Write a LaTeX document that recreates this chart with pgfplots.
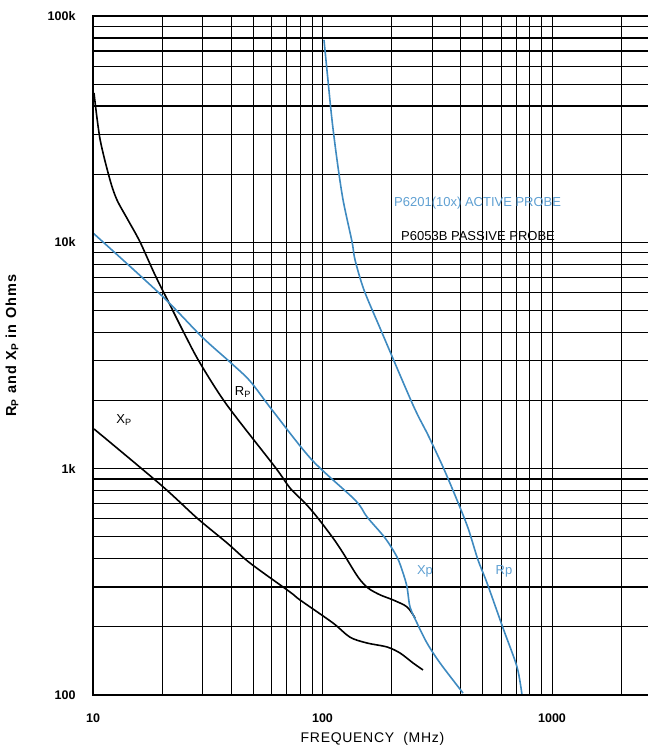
\documentclass[border=0pt]{standalone}
\usepackage{pgfplots}
\pgfplotsset{compat=1.18}
\usepackage{fontspec}
\setmainfont{Liberation Sans}
\definecolor{probeblue}{RGB}{62,138,192}
\definecolor{textblue}{RGB}{95,160,210}
\begin{document}
\begin{tikzpicture}
\useasboundingbox (-93pt,-50pt) rectangle (555pt,695pt);
\begin{axis}[
  name=ax,
  at={(0pt,0pt)}, anchor=south west,
  scale only axis, width=555pt, height=679pt,
  xmode=log, ymode=log,
  xmin=10, xmax=2620, ymin=100, ymax=100000,
  xtick={10,100,1000}, xticklabels={10,100,1000},
  ytick={100,1000,10000,100000}, yticklabels={100,1k,10k,100k},
  minor xtick={20,30,40,50,60,70,80,90,200,300,400,500,600,700,800,900,2000},
  minor ytick={200,300,400,500,600,700,800,900,2000,3000,4000,5000,6000,7000,8000,9000,20000,30000,40000,50000,60000,70000,80000,90000},
  grid=both,
  major tick length=0pt, minor tick length=0pt,
  major x grid style={black, line width=1pt},
  minor x grid style={black, line width=1pt},
  major y grid style={black, line width=1.2pt},
  minor y grid style={black, line width=1.2pt},
  axis line style={draw=none},
  tick label style={font=\fontsize{12.5}{14}\selectfont\bfseries},
  xticklabel style={yshift=-15pt},
  yticklabel style={xshift=-14pt},
  clip=true,
]
% P6053B passive probe Rp (black)
\addplot[black, line width=1.6pt, smooth, tension=0.5] coordinates {
(10.1,45700) (10.73,28600) (11.86,18870) (12.72,15390) (14.2,12560) (16.03,10040)
(18.63,7180) (21.65,5290) (25.17,3900) (29.26,2930) (38.36,1910)
(62.1,1017) (72.2,821) (83.9,705) (94.6,612) (111.1,494) (122.9,424)
(142.8,332) (157.9,297) (178.1,277) (202.9,263) (233.5,245) (253,219)
};
% P6053B passive probe Xp (black)
\addplot[black, line width=1.6pt, smooth, tension=0.5] coordinates {
(10.1,1498) (19.78,847) (28.4,605) (38.36,470) (48.3,383)
(72.2,285) (79.8,263) (111.1,208) (131.8,180) (156.3,169.7) (191,163)
(217.6,153.3) (248,138.5) (274.1,129)
};
% P6201 active probe Xp (blue)
\addplot[probeblue, line width=1.6pt, smooth, tension=0.5] coordinates {
(10,11000) (19.78,5860) (29.85,3820) (39.5,2960) (48.3,2440) (60.3,1817)
(90,1092) (138.6,727) (156.3,612) (187.3,494) (211.2,407)
(224.3,346) (233.5,300) (240.6,245) (258.1,208) (285.3,169.7) (325.1,138.5)
(409.5,102)
};
% P6201 active probe Rp (blue)
\addplot[probeblue, line width=1.6pt, smooth, tension=0.5] coordinates {
(101.5,78400) (105.6,52200) (110,34700) (115.7,23100) (122.9,15390)
(134.5,10040) (138.6,8360) (151.6,6160) (178.1,4180) (248,1910) (288.2,1409)
(335,1017) (385.5,727) (430.5,547) (476,395) (521,312.6) (611.6,197.7)
(704,133) (740,100)
};
\node[font=\fontsize{13}{15}\selectfont] at (axis cs:45,2180) {R\textsubscript{P}};
\node[font=\fontsize{13}{15}\selectfont] at (axis cs:13.65,1642) {X\textsubscript{P}};
\node[font=\fontsize{13}{15}\selectfont, text=textblue] at (axis cs:279.7,353) {Xp};
\node[font=\fontsize{13}{15}\selectfont, text=textblue] at (axis cs:617.7,353) {Rp};
\node[font=\fontsize{13}{15}\selectfont, text=textblue, anchor=west, inner sep=0pt] at (axis cs:204.9,14930) {P6201(10x) ACTIVE PROBE};
\node[font=\fontsize{13}{15}\selectfont, anchor=base west, inner sep=0pt] at (axis cs:219.8,10140) {P6053B PASSIVE PROBE};
\end{axis}
\draw[black, line width=2pt] (ax.north east) -- (ax.north west) -- (ax.south west) -- (ax.south east);
\node[font=\fontsize{14}{16}\selectfont\addfontfeature{LetterSpace=5}, anchor=center] at ([xshift=2pt,yshift=-44pt]ax.south) {FREQUENCY\ \ (MHz)};
\node[font=\fontsize{14.5}{16}\selectfont\bfseries\addfontfeature{LetterSpace=8}, rotate=90, anchor=center] at ([xshift=-81pt,yshift=10pt]ax.west) {R\textsubscript{P} and X\textsubscript{P} in Ohms};
\end{tikzpicture}
\end{document}
